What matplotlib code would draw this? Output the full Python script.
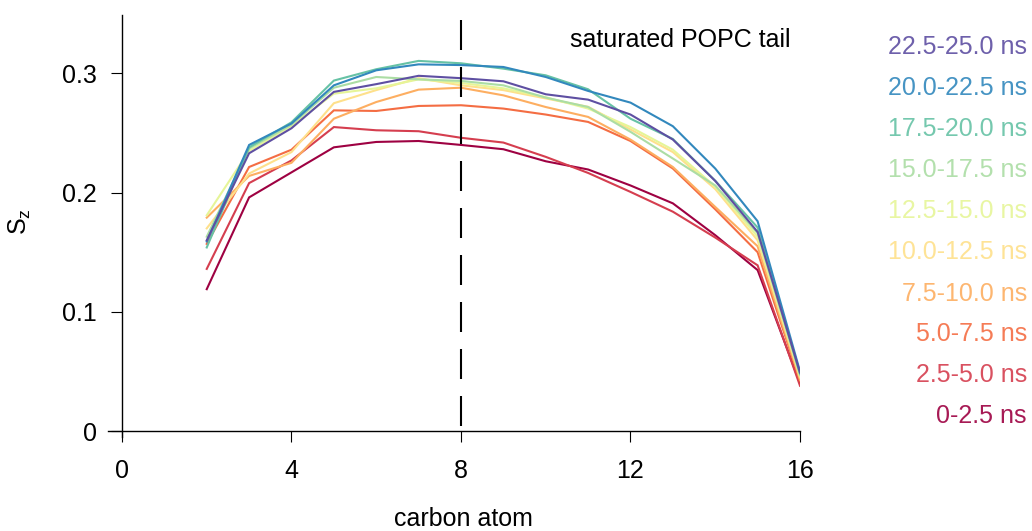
import matplotlib
matplotlib.use("Agg")
import matplotlib.pyplot as plt

plt.rcParams['font.family'] = ['Liberation Sans', 'DejaVu Sans']

carbons = list(range(2, 17))
labels = ["0-2.5 ns", "2.5-5.0 ns", "5.0-7.5 ns", "7.5-10.0 ns", "10.0-12.5 ns",
          "12.5-15.0 ns", "15.0-17.5 ns", "17.5-20.0 ns", "20.0-22.5 ns", "22.5-25.0 ns"]
colors = ["#9e0142", "#d53e4f", "#f46d43", "#fdae61", "#fee08b",
          "#e6f598", "#abdda4", "#66c2a5", "#3288bd", "#5e4fa2"]

s_0_25 = [0.119, 0.196, 0.217, 0.238, 0.2425, 0.2433, 0.240, 0.2364, 0.2263, 0.2194, 0.206, 0.191, 0.1643, 0.135, 0.040]
s_25_50 = [0.136, 0.208, 0.227, 0.255, 0.2523, 0.2515, 0.246, 0.242, 0.230, 0.2165, 0.2006, 0.184, 0.1623, 0.139, 0.038]
s_50_75 = [0.157, 0.2215, 0.236, 0.269, 0.2685, 0.2727, 0.2733, 0.2705, 0.2655, 0.2593, 0.2433, 0.2202, 0.186, 0.150, 0.042]
s_75_100 = [0.179, 0.214, 0.225, 0.262, 0.276, 0.2864, 0.288, 0.2816, 0.2718, 0.2635, 0.2445, 0.2215, 0.188, 0.155, 0.043]
s_100_125 = [0.170, 0.216, 0.234, 0.275, 0.286, 0.296, 0.290, 0.286, 0.279, 0.272, 0.253, 0.234, 0.203, 0.160, 0.045]
s_125_150 = [0.181, 0.235, 0.256, 0.283, 0.2875, 0.295, 0.292, 0.2875, 0.280, 0.2705, 0.255, 0.236, 0.205, 0.163, 0.046]
s_150_175 = [0.163, 0.237, 0.257, 0.288, 0.297, 0.295, 0.2937, 0.290, 0.2797, 0.2718, 0.251, 0.2286, 0.206, 0.166, 0.047]
s_175_200 = [0.154, 0.238, 0.259, 0.294, 0.3035, 0.3105, 0.3085, 0.304, 0.2984, 0.2867, 0.262, 0.245, 0.210, 0.1707, 0.048]
s_200_225 = [0.159, 0.240, 0.258, 0.290, 0.3026, 0.3076, 0.307, 0.3054, 0.297, 0.2853, 0.2755, 0.2557, 0.2202, 0.176, 0.050]
s_225_250 = [0.160, 0.233, 0.254, 0.2845, 0.291, 0.298, 0.296, 0.2934, 0.2825, 0.278, 0.2655, 0.2445, 0.2098, 0.167, 0.049]

series = [s_0_25, s_25_50, s_50_75, s_75_100, s_100_125,
          s_125_150, s_150_175, s_175_200, s_200_225, s_225_250]

xticks = [0, 4, 8, 12, 16]
yticks = [0, 0.1, 0.2, 0.3]
ytick_labels = ["0", "0.1", "0.2", "0.3"]

FS = 18

fig = plt.figure(figsize=(10.32, 5.31), dpi=100)
ax = fig.add_axes([108 / 1032, 1 - 437 / 531, 692 / 1032, 422 / 531])
ax.set_xlim(-0.33, 16)
ax.set_ylim(-0.005, 0.349)

for vals, c in zip(series, colors):
    ax.plot(carbons, vals, color=c, lw=1.5, solid_joinstyle='miter')

lw_d = 1.5
ax.plot([8, 8], [0, 0.349], color='black', lw=lw_d,
        linestyle=(30.24 / lw_d, (21.6 / lw_d, 12.24 / lw_d)))

ax.spines['top'].set_visible(False)
ax.spines['right'].set_visible(False)
ax.spines['left'].set_position(('data', 0))
ax.spines['bottom'].set_position(('data', 0))
ax.spines['left'].set_linewidth(1.0)
ax.spines['bottom'].set_linewidth(1.0)

ax.set_xticks(xticks)
ax.set_xticklabels([str(t) for t in xticks])
ax.set_yticks(yticks)
ax.set_yticklabels(ytick_labels)
ax.tick_params(axis='x', direction='out', length=8, width=0.8, pad=12, labelsize=FS)
ax.tick_params(axis='y', direction='out', length=8, width=0.8, pad=10, labelsize=FS)

fig.text(790 / 1032, 1 - 40 / 531, "saturated POPC tail",
         ha='right', va='center', fontsize=FS)

fig.text(463 / 1032, 1 - 519 / 531, "carbon atom", ha='center', va='center', fontsize=FS)
fig.text(20 / 1032, 1 - 222 / 531, r"S$_\mathregular{z}$", ha='center', va='center',
         rotation=90, fontsize=FS)

ys = [416, 375, 334, 294, 252, 211, 170, 129, 88, 47]
for lab, c, yp in zip(labels, colors, ys):
    fig.text(1027 / 1032, 1 - yp / 531, lab, color=c, alpha=0.9, ha='right', va='center',
             fontsize=FS)

fig.savefig("out.png", dpi=100)
